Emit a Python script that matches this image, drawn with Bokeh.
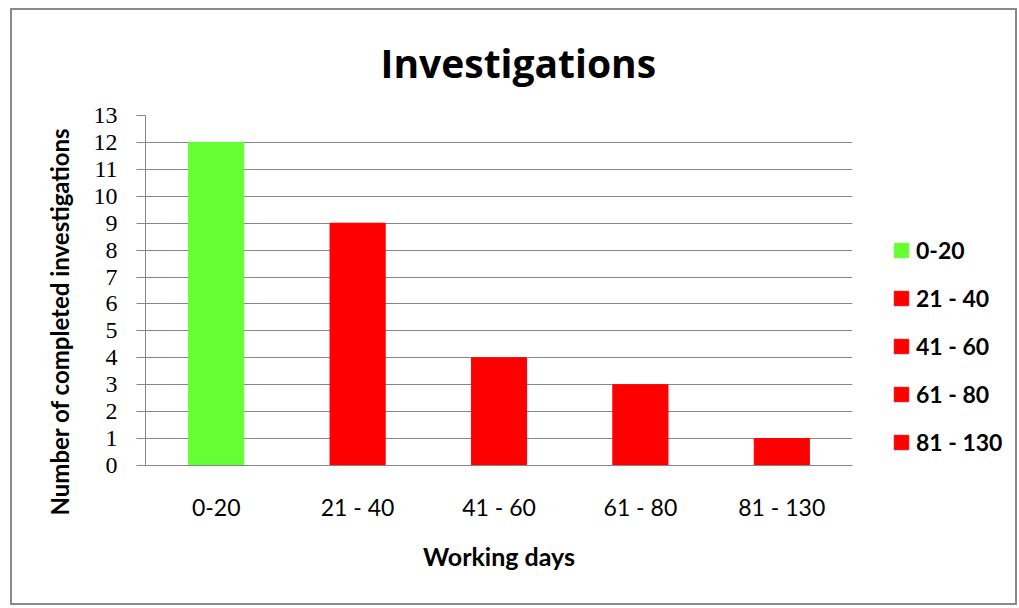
from bokeh.plotting import figure
from bokeh.layouts import row
from bokeh.models import (Range1d, FactorRange, FixedTicker, Legend, LegendItem,
                          Title, ColumnDataSource)
from bokeh.embed import file_html
from bokeh.resources import INLINE

# ---- data ----
categories = ["0-20", "21 - 40", "41 - 60", "61 - 80", "81 - 130"]
counts = [12, 9, 4, 3, 1]
bar_colors = ["#66FF33", "#FF0000", "#FF0000", "#FF0000", "#FF0000"]
y_ticks = list(range(0, 14))

title_text = "Investigations"
x_title = "Working days"
y_title = "Number of completed investigations"

GRID = "#868686"

src = ColumnDataSource(dict(cat=categories, val=counts, color=bar_colors))

# ---- main chart ----
p = figure(width=850, height=593, output_backend="svg", toolbar_location=None,
           x_range=FactorRange(*categories, range_padding=0),
           y_range=Range1d(0, 13),
           min_border_left=133, min_border_right=10,
           min_border_top=105, min_border_bottom=138)
p.outline_line_color = None
p.background_fill_color = "white"
p.border_fill_color = "white"

r = p.vbar(x="cat", top="val", width=0.39, color="color", source=src)

# title
p.title.text = title_text
p.title.text_font = "Open Sans"
p.title.text_font_style = "bold"
p.title.text_font_size = "39px"
p.title.text_color = "black"
p.title.align = "left"
p.title.offset = 235
p.title.vertical_align = "top"
p.title.standoff = 50

# grids
p.xgrid.grid_line_color = None
p.ygrid.grid_line_color = GRID
p.ygrid.grid_line_width = 1
p.yaxis.ticker = FixedTicker(ticks=y_ticks)

# y axis
p.yaxis.axis_line_color = GRID
p.yaxis.major_tick_line_color = GRID
p.yaxis.major_tick_out = 9
p.yaxis.major_tick_in = 0
p.yaxis.minor_tick_line_color = None
p.yaxis.major_label_text_font = "Liberation Serif"
p.yaxis.major_label_text_font_size = "24px"
p.yaxis.major_label_text_color = "black"
p.yaxis.major_label_standoff = 19

# x axis
p.xaxis.axis_line_color = GRID
p.xaxis.major_tick_line_color = None
p.xaxis.major_tick_out = 0
p.xaxis.major_tick_in = 0
p.xaxis.major_label_text_font = "Lato"
p.xaxis.major_label_text_font_size = "23px"
p.xaxis.major_label_text_color = "black"
p.xaxis.major_label_standoff = 27
p.xaxis.axis_label = x_title
p.xaxis.axis_label_text_font = "Lato"
p.xaxis.axis_label_text_font_style = "bold"
p.xaxis.axis_label_text_font_size = "25px"
p.xaxis.axis_label_text_color = "black"
p.xaxis.axis_label_standoff = 17

# y axis title (side-panel title, shifted downward like the reference)
ytitle = Title(text=y_title, align="left", offset=-50, standoff=33,
               text_font="Lato", text_font_style="bold",
               text_font_size="24px", text_color="black")
p.add_layout(ytitle, "left")

# ---- legend panel ----
q = figure(width=153, height=593, output_backend="svg", toolbar_location=None,
           x_range=FactorRange(*categories), y_range=Range1d(100, 101),
           x_axis_type=None, y_axis_type=None, min_border=0)
q.outline_line_color = None
q.xgrid.grid_line_color = None
q.ygrid.grid_line_color = None
lr = q.vbar(x="cat", top="val", width=0.39, color="color", source=src)
lr.visible = False

items = [LegendItem(label=c, renderers=[lr], index=i) for i, c in enumerate(categories)]
legend = Legend(items=items, location=(30, 9), padding=0, margin=0,
                glyph_width=18, glyph_height=18, label_standoff=6,
                spacing=20, label_text_font="Lato", label_text_font_style="bold",
                label_text_font_size="23px", label_text_color="black",
                inactive_fill_alpha=0, click_policy="none",
                border_line_color=None, background_fill_alpha=0)
q.add_layout(legend)

lay = row(p, q)
lay.styles = {"border": "2px solid #8a8a8a", "margin-left": "10px",
              "margin-top": "8px"}

open("out.html", "w").write(file_html(lay, INLINE))
